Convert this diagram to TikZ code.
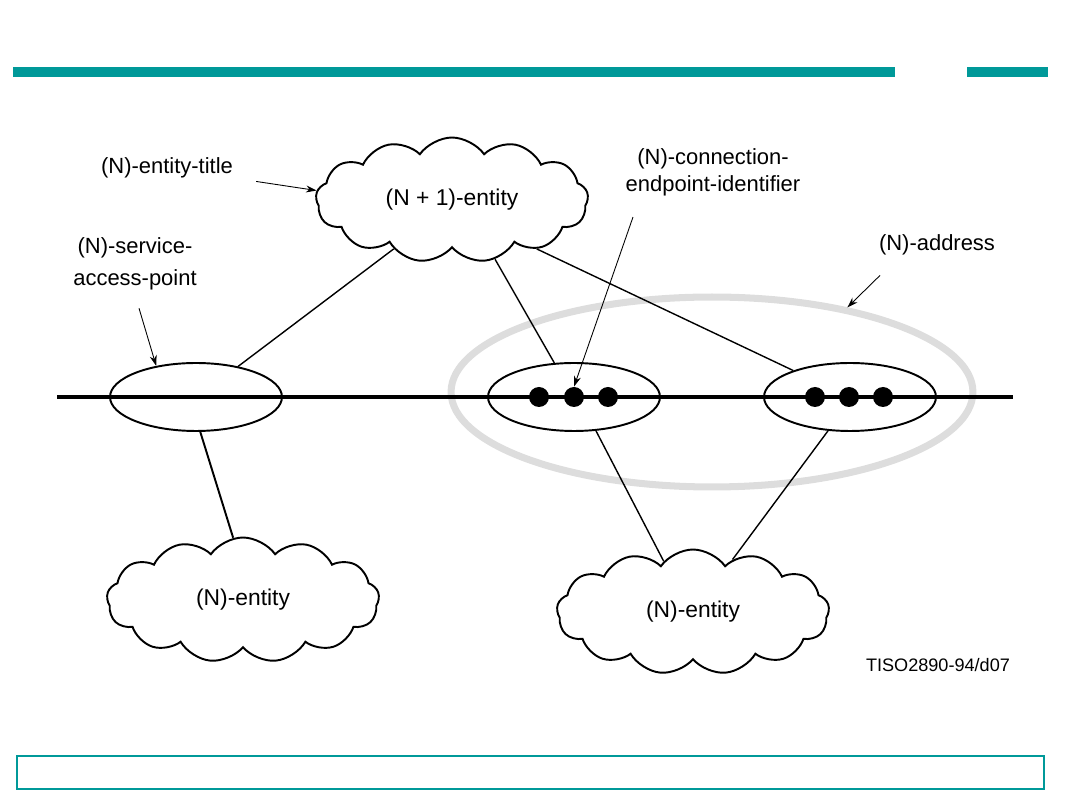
\documentclass[tikz,border=0pt]{standalone}
\usepackage{fontspec}
\setmainfont{Liberation Sans}
\usetikzlibrary{shapes.geometric,shapes.symbols,arrows.meta}
\definecolor{teal}{HTML}{009999}
\definecolor{addrgrey}{HTML}{DDDDDD}

\begin{document}
\begin{tikzpicture}[x=0.02cm, y=-0.02cm,
  entcloud/.style={draw, cloud, cloud puffs=13, cloud puff arc=110,
    aspect=2.2, line width=1.1pt, minimum width=5.45cm, minimum height=2.5cm,
    inner sep=0pt, font=\fontsize{13}{15}\selectfont},
  sapell/.style={draw, ellipse, line width=1.1pt, minimum width=3.44cm,
    minimum height=1.36cm, inner sep=0pt},
  dot/.style={circle, fill=black, minimum size=0.4cm, inner sep=0pt},
  lbl/.style={align=center, font=\fontsize{12.5}{18}\selectfont},
  link/.style={line width=0.8pt},
  ptr/.style={line width=0.5pt, -{Stealth[length=6pt, width=4pt]}}]
  \useasboundingbox (0,0) rectangle (1080,810);
  % frame
  \fill[teal] (13,67) rectangle (895,77);
  \fill[teal] (967,67) rectangle (1048,77);
  \draw[teal, line width=1.2pt] (17,756) rectangle (1044,789);
  % address ring
  \node[draw=addrgrey, line width=4pt, ellipse, minimum width=10.44cm,
    minimum height=3.8cm, inner sep=0pt] (addr) at (712,392) {};
  % layer boundary
  \draw[line width=2.3pt] (57,397) -- (1013,397);
  \node[sapell] (sap1) at (196,397) {};
  \node[sapell] (sap2) at (574,397) {};
  \node[sapell] (sap3) at (850,397) {};
  \foreach \i/\x in {1/539, 2/574, 3/608} {
    \node[dot] (d2\i) at (\x,397) {};
  }
  \foreach \i/\x in {1/815, 2/849, 3/883} {
    \node[dot] (d3\i) at (\x,397) {};
  }
  % entities
  \node[entcloud] (up) at (452,200) {(N + 1)-entity};
  \node[entcloud] (lo1) at (243,600) {(N)-entity};
  \node[entcloud] (lo2) at (693,612) {(N)-entity};
  \draw[link] (up.-140) -- (sap1.36);
  \draw[link] (up.-54) -- (sap2.120);
  \draw[link] (up.-30) -- (sap3.155);
  \draw[line width=1.1pt] (sap1.-83) -- (lo1.99);
  \draw[link] (sap2.-57) -- (lo2.120);
  \draw[link] (sap3.-123) -- (lo2.53);
  % labels
  \node[lbl] (ttl) at (167,168) {(N)-entity-title};
  \node[lbl] (sapl) at (135,264) {(N)-service-\\access-point};
  \node[lbl, font=\fontsize{12.5}{15.5}\selectfont] (cepl) at (713,172)
    {(N)-connection-\\endpoint-identifier};
  \node[lbl] (addrl) at (937,245) {(N)-address};
  \node[font=\fontsize{10.3}{12}\selectfont] (ref) at (938,665) {TISO2890-94/d07};
  \draw[ptr] ([shift={(17,-3)}]ttl.south east) -- (up.176);
  \draw[ptr] ([shift={(4,12)}]sapl.south) -- (sap1.142);
  \draw[ptr] ([shift={(-80,15)}]cepl.south) -- (d22.north);
  \draw[ptr] ([shift={(-57,14)}]addrl.south) -- (addr.32);
\end{tikzpicture}
\end{document}
